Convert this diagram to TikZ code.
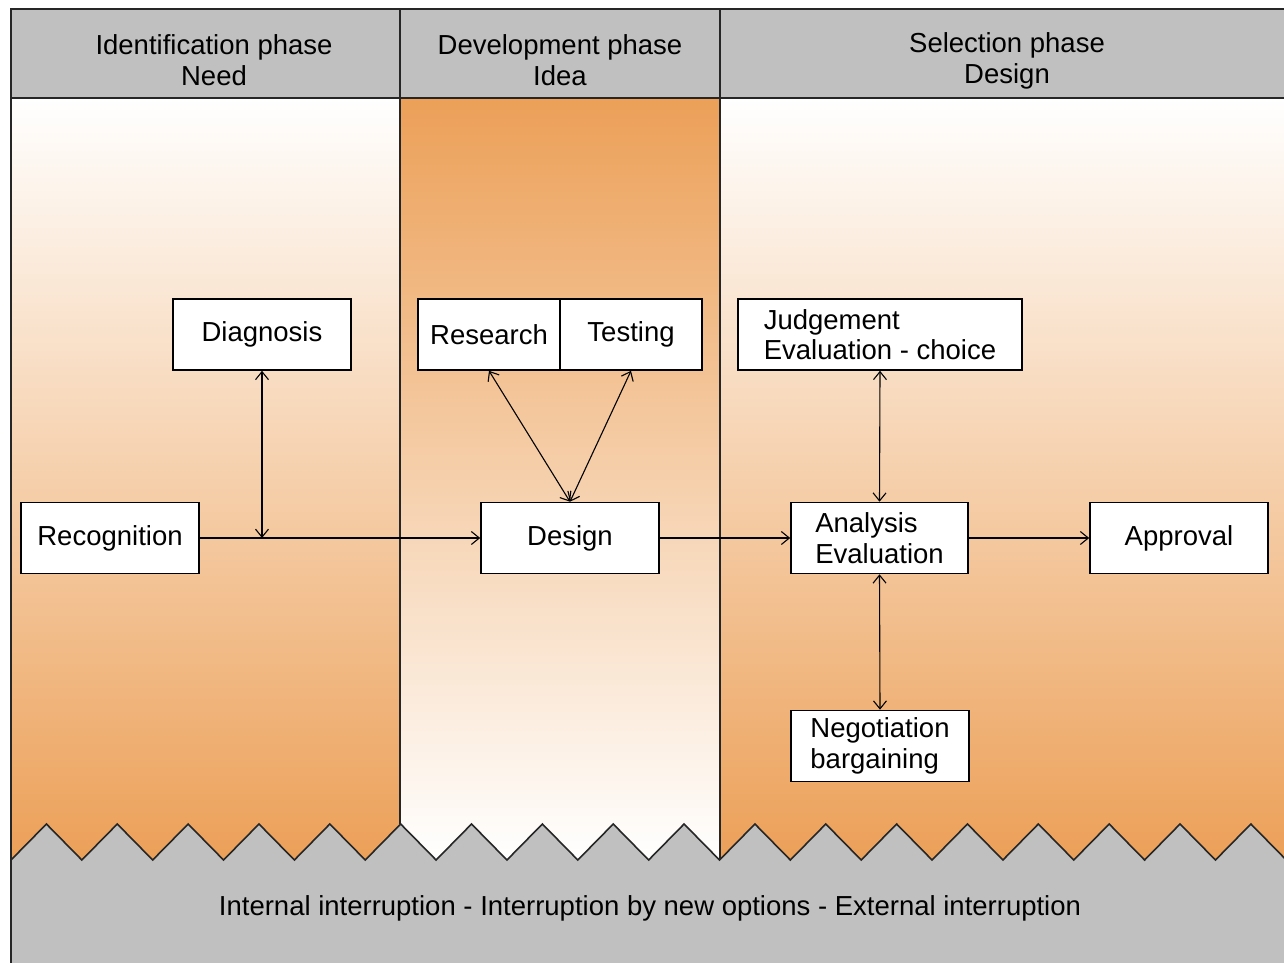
\documentclass[tikz,border=0pt]{standalone}
\usepackage{fontspec}
\setmainfont{Liberation Sans}
\usetikzlibrary{arrows.meta}
\definecolor{hdr}{RGB}{192,192,192}
\definecolor{org}{RGB}{236,160,88}
\begin{document}
\begin{tikzpicture}[x=1pt,y=-1pt,
  box/.style={draw=black, line width=1.6pt, fill=white, minimum height=71pt, inner sep=0pt, font=\fontsize{27.5}{30.5}\selectfont},
  conn/.style={line width=1.1pt, -{Straight Barb[length=8pt,width=13pt]}},
  biconn/.style={line width=1.1pt, {Straight Barb[length=8pt,width=13pt]}-{Straight Barb[length=8pt,width=13pt]}},
  hdrtext/.style={font=\fontsize{27.5}{30.5}\selectfont, align=center, inner sep=0pt},
  frame/.style={line width=1.6pt, draw=black!85}]
\useasboundingbox (0,0) rectangle (1284,963);
\clip (0,0) rectangle (1284,963);
% column shadings
\shade[top color=white, bottom color=org] (11,98) rectangle (400,860);
\shade[top color=org, bottom color=white] (400,98) rectangle (720,860);
\shade[top color=white, bottom color=org] (720,98) rectangle (1300,860);
% header band
\fill[hdr] (11,9) rectangle (1300,98);
% bottom zigzag band
\filldraw[fill=hdr, frame] (11,860)
  \foreach \k in {0,...,17} { -- ({11+70.85*(\k+0.5)},824) -- ({11+70.85*(\k+1)},860) }
  -- (1300,1000) -- (11,1000) -- cycle;
% frame lines
\draw[frame] (1300,9) -- (11,9) -- (11,860);
\draw[frame] (11,98) -- (1300,98);
\draw[frame] (400,9) -- (400,824);
\draw[frame] (720,9) -- (720,860);
% header texts
\node[hdrtext] (h1) at (214,60) {Identification phase\\Need};
\node[hdrtext] (h2) at (560,60) {Development phase\\Idea};
\node[hdrtext] (h3) at (1007,61) {Selection phase\\Design};
\node[hdrtext] (btm) at (650,908) {Internal interruption - Interruption by new options - External interruption};
% boxes
\node[box, minimum width=178pt] (rec) at (110,538) {Recognition};
\node[box, minimum width=178pt] (diag) at (262,334.5) {Diagnosis};
\node[box, minimum width=142pt] (res) at (489,334.5) {Research};
\node[box, minimum width=142pt] (tes) at (631,334.5) {Testing};
\node[box, minimum width=178pt] (des) at (570,538) {Design};
\node[box, minimum width=284pt, align=left] (jud) at (880,334.5) {Judgement\\Evaluation - choice};
\node[box, minimum width=177pt, align=left] (ana) at (879.5,538) {Analysis\\Evaluation};
\node[box, minimum width=178pt] (app) at (1179,538) {Approval};
\node[box, minimum width=178pt, align=left] (neg) at (880,746) {Negotiation\\bargaining};
% connectors
\coordinate (j1) at (diag.south |- rec.east);
\draw[conn] (rec.east) -- (des.west);
\draw[biconn] (diag.south) -- (j1);
\draw[biconn] (res.south) -- (des.north);
\draw[biconn] (tes.south) -- (des.north);
\draw[conn] (des.east) -- (ana.west);
\draw[biconn] (jud.south) -- (ana.north);
\draw[biconn] (neg.north) -- (ana.south);
\draw[conn] (ana.east) -- (app.west);
\end{tikzpicture}
\end{document}
